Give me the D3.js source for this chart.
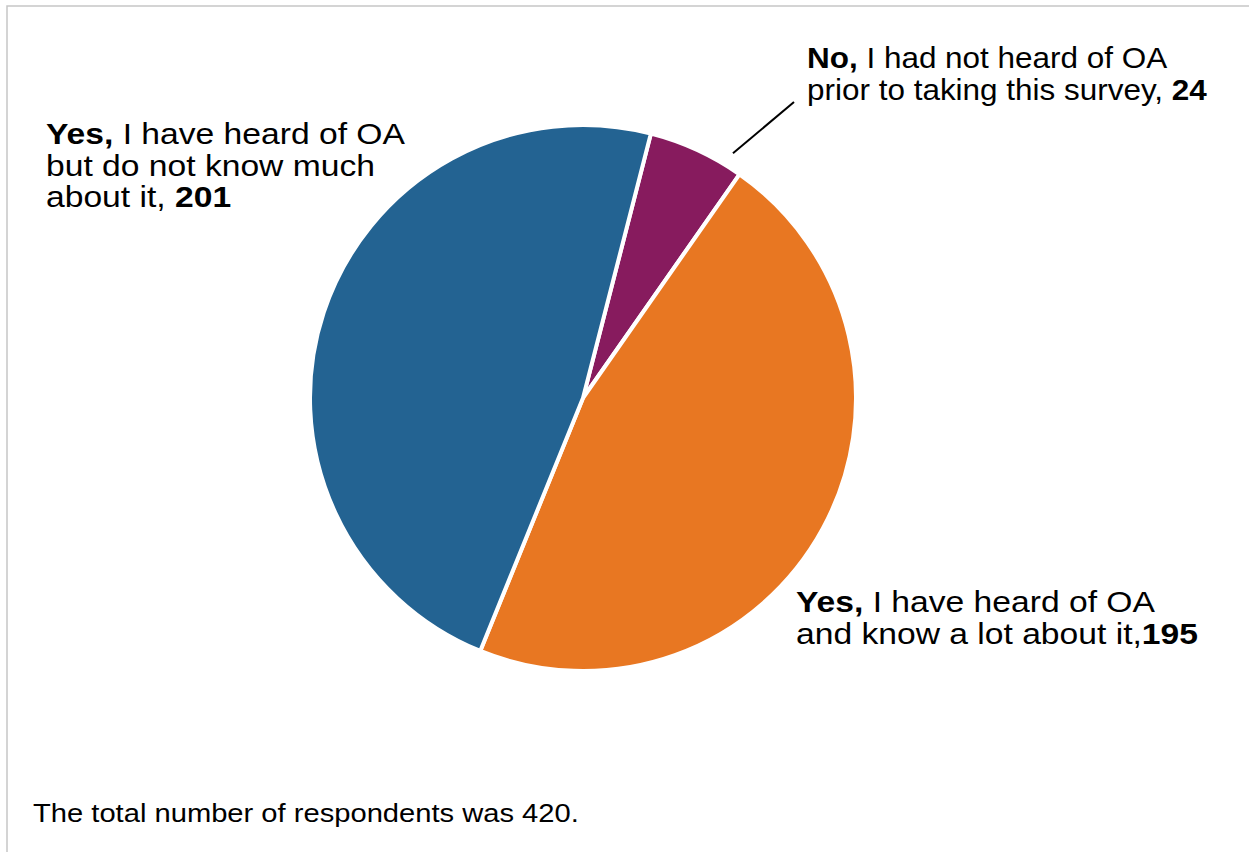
<!DOCTYPE html>
<html>
<head>
<meta charset="utf-8">
<script src="https://cdn.jsdelivr.net/npm/d3@7"></script>
<style>
  html, body { margin: 0; padding: 0; background: #fff; }
  svg { display: block; }
  text { font-family: "Liberation Sans", Arial, sans-serif; fill: #000; }
</style>
</head>
<body>
<svg id="chart" width="1249" height="852"></svg>
<script>
// Survey responses: awareness of OA
const categories = [
  "No, I had not heard of OA prior to taking this survey",
  "Yes, I have heard of OA and know a lot about it",
  "Yes, I have heard of OA but do not know much about it"
];
const values = [24, 195, 201];
const colors = ["#871b5e", "#e87722", "#236392"];

// Label text, line by line; bold runs are flagged, the count goes where {v} is
const labelLines = [
  [[["No,", true], [" I had not heard of OA", false]],
   [["prior to taking this survey, ", false], ["{v}", true]]],
  [[["Yes,", true], [" I have heard of OA", false]],
   [["and know a lot about it,", false], ["{v}", true]]],
  [[["Yes,", true], [" I have heard of OA", false]],
   [["but do not know much", false]],
   [["about it, ", false], ["{v}", true]]]
];
const footnote = "The total number of respondents was 420.";

const svg = d3.select("#chart");
const W = 1249, H = 852;

// light frame
svg.append("rect")
  .attr("x", 7).attr("y", 6)
  .attr("width", W).attr("height", H)
  .attr("fill", "none")
  .attr("stroke", "#c6c6c6")
  .attr("stroke-width", 1.5);

const cx = 583, cy = 398, R = 273;
const startDeg = 14.4;
const start = startDeg * Math.PI / 180;

const pie = d3.pie().sort(null)
  .startAngle(start).endAngle(start + 2 * Math.PI);
const arcs = pie(values);
const arc = d3.arc().innerRadius(0).outerRadius(R);

const g = svg.append("g").attr("transform", `translate(${cx},${cy})`);
g.selectAll("path.slice")
  .data(arcs)
  .join("path")
  .attr("class", "slice")
  .attr("d", arc)
  .attr("fill", (d, i) => colors[i])
  .attr("stroke", "#fff")
  .attr("stroke-width", 4)
  .attr("stroke-linejoin", "round");

// leader line for the small slice
const a0 = (arcs[0].startAngle + arcs[0].endAngle) / 2 + 0.119;
const p1 = [Math.sin(a0) * (R + 14), -Math.cos(a0) * (R + 14)];
g.append("line")
  .attr("x1", p1[0]).attr("y1", p1[1])
  .attr("x2", 794 - cx).attr("y2", 102 - cy)
  .attr("stroke", "#000").attr("stroke-width", 2);

// label anchor (left x, first baseline) and horizontal stretch per label
const labelPos = [
  { x: 807, y: 68, sx: 1.085 },
  { x: 796, y: 612, sx: 1.16 },
  { x: 46, y: 144, sx: 1.16 }
];
const lineH = 31.7;
const fontSize = 29;

labelLines.forEach((lines, i) => {
  const p = labelPos[i];
  const t = svg.append("text")
    .attr("transform", `translate(${p.x},${p.y}) scale(${p.sx},1)`)
    .attr("font-size", fontSize);
  lines.forEach((runs, li) => {
    runs.forEach(([txt, bold], ri) => {
      const s = t.append("tspan")
        .attr("font-weight", bold ? "bold" : "normal")
        .text(txt.replace("{v}", values[i]));
      if (ri === 0) s.attr("x", 0).attr("y", li * lineH);
    });
  });
});

svg.append("text")
  .attr("transform", `translate(33,822) scale(1.1,1)`)
  .attr("font-size", 26.5)
  .text(footnote);
</script>
</body>
</html>
